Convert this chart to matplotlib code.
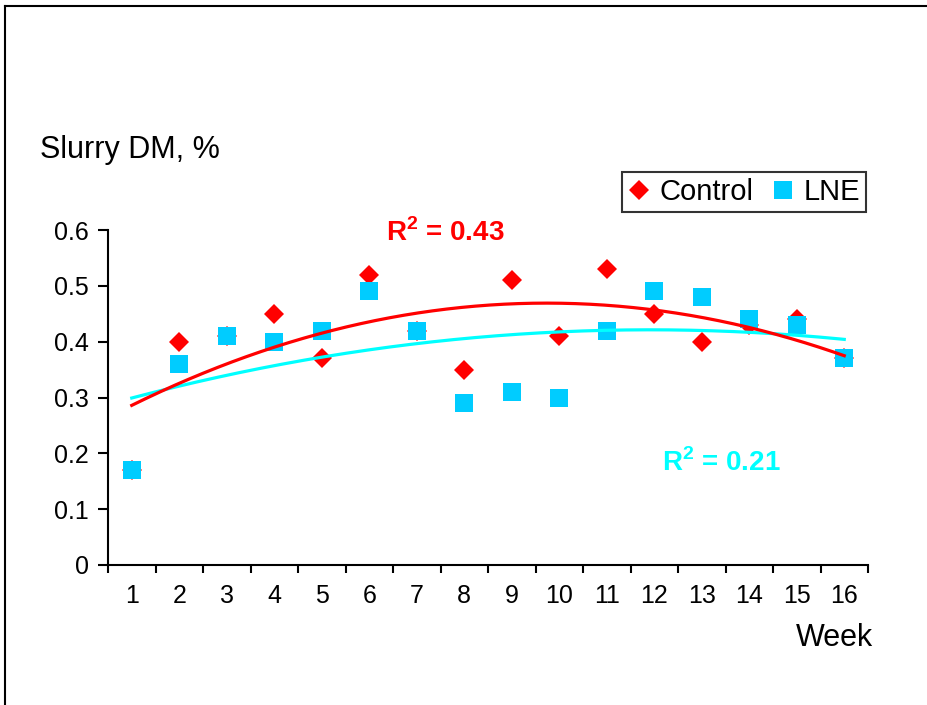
import numpy as np
import matplotlib
matplotlib.use('Agg')
import matplotlib.pyplot as plt
from matplotlib.lines import Line2D

# data
weeks = list(range(1, 17))
week_labels = [str(w) for w in weeks]
control = [0.17, 0.40, 0.41, 0.45, 0.37, 0.52, 0.42, 0.35,
           0.51, 0.41, 0.53, 0.45, 0.40, 0.43, 0.44, 0.37]
lne = [0.17, 0.36, 0.41, 0.40, 0.42, 0.49, 0.42, 0.29,
       0.31, 0.30, 0.42, 0.49, 0.48, 0.44, 0.43, 0.37]
r2_control = '0.43'
r2_lne = '0.21'
y_ticks = [0, 0.1, 0.2, 0.3, 0.4, 0.5, 0.6]

plt.rcParams['font.family'] = ['Liberation Sans', 'DejaVu Sans']
plt.rcParams['mathtext.fontset'] = 'custom'
plt.rcParams['mathtext.rm'] = 'Liberation Sans'
plt.rcParams['mathtext.bf'] = 'Liberation Sans:bold'

W, H = 928, 705
fig = plt.figure(figsize=(W / 100, H / 100), dpi=100, facecolor='white')
ax = fig.add_axes([108 / W, 1 - 565 / H, 760 / W, 335 / H])

# scatter points
ax.plot(weeks, control, linestyle='none', marker='D', markersize=10.5,
        color='#FF0000', markeredgewidth=0, label='Control', zorder=3)
ax.plot(weeks, lne, linestyle='none', marker='s', markersize=13,
        color='#00CCFF', markeredgewidth=0, label='LNE', zorder=4)

# 2nd order polynomial trendlines
xs = np.linspace(1, 16, 200)
fit_lne = np.polyfit(weeks, lne, 2)
fit_ctrl = np.polyfit(weeks, control, 2)
ax.plot(xs, np.polyval(fit_lne, xs), color='#00FFFF', linewidth=2.3, zorder=5)
ax.plot(xs, np.polyval(fit_ctrl, xs), color='#FF0000', linewidth=2.3, zorder=6)

ax.set_xlim(0.5, 16.5)
ax.set_ylim(0, 0.6)

# category axis: ticks between categories, labels at centres
ax.set_xticks(np.arange(0.5, 17, 1))
ax.set_xticklabels([])
ax.set_xticks(weeks, minor=True)
ax.set_xticklabels(week_labels, minor=True, fontsize=18)
ax.tick_params(axis='x', which='major', direction='out', length=6, width=1.5)
ax.tick_params(axis='x', which='minor', length=0, pad=14)

ax.set_yticks(y_ticks)
ax.set_yticklabels(['0', '0.1', '0.2', '0.3', '0.4', '0.5', '0.6'], fontsize=18)
ax.tick_params(axis='y', direction='out', length=7, width=1.5, pad=7)

for s in ['top', 'right']:
    ax.spines[s].set_visible(False)
for s in ['left', 'bottom']:
    ax.spines[s].set_linewidth(1.5)

# R^2 labels (pixel positions, origin at bottom left)
ax.text(445, H - 233, r'R$^{\mathbf{2}}$ = ' + r2_control, transform=None,
        fontsize=20, fontweight='bold', color='#FF0000', ha='center', va='center')
ax.text(721, H - 463, r'R$^{\mathbf{2}}$ = ' + r2_lne, transform=None,
        fontsize=20, fontweight='bold', color='#00FFFF', ha='center', va='center')

# axis titles
fig.text(40 / W, 1 - 150 / H, 'Slurry DM, %', fontsize=22, ha='left', va='center')
fig.text(873 / W, 1 - 638 / H, 'Week', fontsize=22, ha='right', va='center')

# legend
leg = ax.legend(loc='upper left', bbox_to_anchor=(622 / W, 1 - 172 / H),
                bbox_transform=fig.transFigure, ncol=2, fontsize=21,
                frameon=True, fancybox=False, handlelength=0.8,
                handletextpad=0.3, columnspacing=0.6, borderpad=0.2,
                borderaxespad=0)
leg.get_frame().set_edgecolor('black')
leg.get_frame().set_linewidth(1.5)

# outer chart border (left and top visible)
fig.add_artist(Line2D([5 / W, 5 / W], [0, 1 - 6 / H], color='black', linewidth=1.5,
                      transform=fig.transFigure))
fig.add_artist(Line2D([5 / W, 1], [1 - 6 / H, 1 - 6 / H], color='black', linewidth=1.5,
                      transform=fig.transFigure))

fig.savefig('out.png', dpi=100)
